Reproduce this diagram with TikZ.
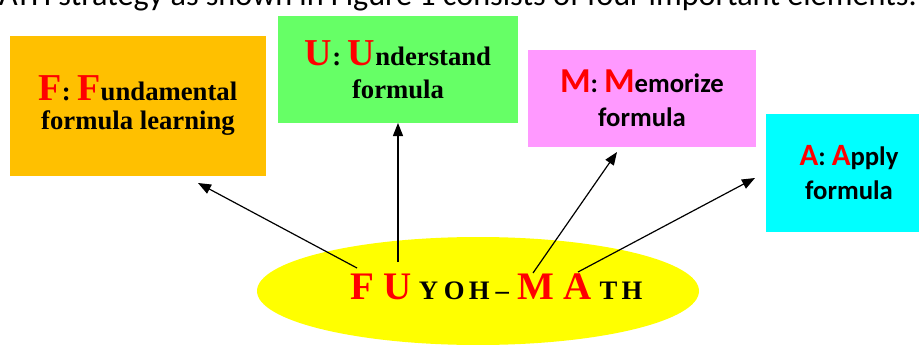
\documentclass[tikz,border=0pt]{standalone}
\usepackage{fontspec}
\usetikzlibrary{arrows.meta,shapes.geometric}
\newfontfamily\tnrfont{Liberation Serif}
\newfontfamily\calfont{Carlito}
\definecolor{boxF}{HTML}{FFC000}
\definecolor{boxU}{HTML}{66FF66}
\definecolor{boxM}{HTML}{FF99FF}
\definecolor{boxA}{HTML}{00FFFF}
\definecolor{ellY}{HTML}{FFFF00}
\definecolor{redL}{HTML}{FF0000}
\newcommand\bigred[2]{{\fontsize{#1}{0}\selectfont\color{redL}#2}}
\tikzset{
  boxnode/.style={draw=none, inner sep=0pt, align=center},
  serifbox/.style={boxnode, font=\tnrfont\bfseries\fontsize{26.7}{29}\selectfont},
  sansbox/.style={boxnode, font=\calfont\bfseries\fontsize{26.7}{34}\selectfont},
  arr/.style={line width=1.2pt, -{Triangle[length=13pt,width=10pt]}}
}
\begin{document}
\begin{tikzpicture}[x=1pt,y=-1pt]
\useasboundingbox (0,0) rectangle (919,345);
\clip (0,0) rectangle (919,345);
% cropped caption line at top
\node[anchor=base east, inner sep=0pt, font=\calfont\fontsize{32.2}{36}\selectfont] (cap) at (917,5.3)
  {MATH strategy as shown in Figure 1 consists of four important elements.};
% boxes
\node[serifbox, fill=boxF, minimum width=256pt, minimum height=140pt] (F) at (138,106)
  {\bigred{38}{F}: \bigred{38}{F}undamental\\formula learning};
\node[serifbox, font=\tnrfont\bfseries\fontsize{26.7}{33}\selectfont, fill=boxU, minimum width=240pt, minimum height=107pt] (U) at (398,69.5)
  {\bigred{38}{U}: \bigred{38}{U}nderstand\\formula};
\node[sansbox, fill=boxM, minimum width=228pt, minimum height=97pt] (M) at (642,98.5)
  {\bigred{35}{M}: \bigred{35}{M}emorize\\formula};
\node[sansbox, fill=boxA, minimum width=166pt, minimum height=118pt] (A) at (849,173)
  {\bigred{31}{A}: \bigred{31}{A}pply\\formula};
% ellipse
\node[ellipse, fill=ellY, minimum width=442pt, minimum height=108pt, inner sep=0pt] (E) at (478,291) {};
\node[anchor=base west, inner sep=0pt, font=\tnrfont\bfseries] (title) at (350,299)
  {\color{redL}\fontsize{39}{40}\selectfont F\hspace{9.5pt}U\hspace{7.3pt}{\color{black}\fontsize{26.7}{30}\selectfont Y\hspace{5.7pt}O\hspace{4.2pt}H\hspace{6pt}–\hspace{8.7pt}}M\hspace{8.5pt}A\hspace{8.3pt}{\color{black}\fontsize{26.7}{30}\selectfont T\hspace{4.2pt}H}};
% arrow ends
\coordinate (sF) at (357,268);
\coordinate (sU) at (398,262);
\coordinate (sM) at (533,273);
\coordinate (sA) at (578,272);
\coordinate (tF) at (198,183);
\coordinate (tU) at (398,123);
\coordinate (tM) at (617,152);
\coordinate (tA) at (755,178);
\draw[arr] (sF) -- (tF);
\draw[arr] (sU) -- (tU);
\draw[arr] (sM) -- (tM);
\draw[arr] (sA) -- (tA);
\end{tikzpicture}
\end{document}
